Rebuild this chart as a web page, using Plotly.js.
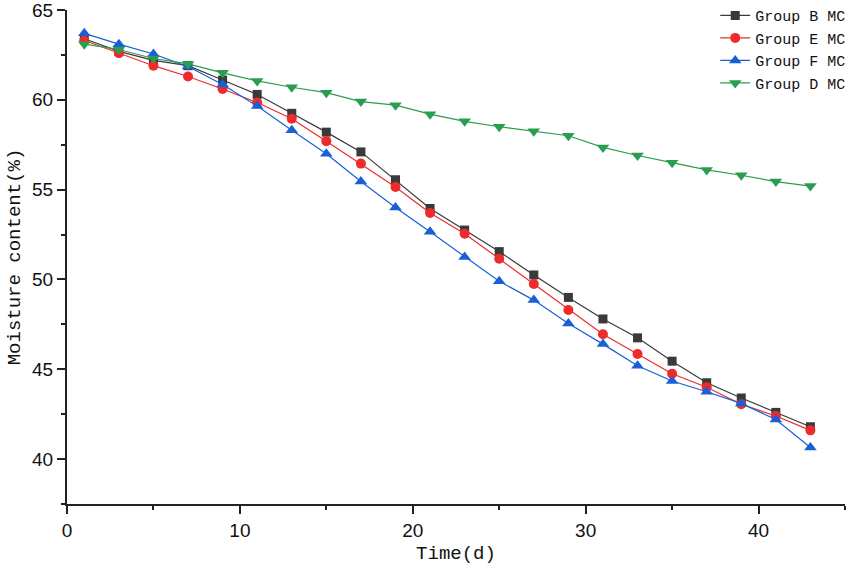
<!DOCTYPE html>
<html>
<head>
<meta charset="utf-8">
<script src="https://cdn.plot.ly/plotly-3.0.1.min.js"></script>
<style>
  html, body { margin: 0; padding: 0; background: #fff; }
  #chart { width: 851px; height: 574px; }
</style>
</head>
<body>
<div id="chart"></div>
<script>
const days = [1, 3, 5, 7, 9, 11, 13, 15, 17, 19, 21, 23, 25, 27, 29, 31, 33, 35, 37, 39, 41, 43];

const groupB = [63.4, 62.7, 62.2, 61.9, 61.1, 60.3, 59.25, 58.2, 57.1, 55.55, 53.95, 52.75, 51.55, 50.25,
  49.0, 47.8, 46.75, 45.45, 44.25, 43.4, 42.6, 41.8];
const groupE = [63.3, 62.6, 61.9, 61.3, 60.6, 59.85, 58.95, 57.7, 56.45, 55.15, 53.7, 52.55, 51.15, 49.75,
  48.3, 46.95, 45.85, 44.75, 44.0, 43.05, 42.4, 41.6];
const groupF = [63.7, 63.1, 62.55, 61.85, 60.85, 59.65, 58.3, 57.0, 55.45, 54.0, 52.65, 51.25, 49.9, 48.85,
  47.55, 46.4, 45.2, 44.35, 43.75, 43.1, 42.2, 40.65];
const groupD = [63.1, 62.8, 62.3, 62.0, 61.5, 61.05, 60.7, 60.4, 59.9, 59.7, 59.2, 58.8, 58.5, 58.25,
  58.0, 57.35, 56.9, 56.5, 56.1, 55.8, 55.45, 55.2];

const seriesNames = ["Group B MC", "Group E MC", "Group F MC", "Group D MC"];

function makeTrace(y, name, color, symbol, size) {
  return {
    x: days,
    y: y,
    name: name,
    type: "scatter",
    mode: "lines+markers",
    line: { color: color, width: 1.2 },
    marker: { color: color, symbol: symbol, size: size, line: { width: 0 } },
  };
}

const data = [
  makeTrace(groupB, seriesNames[0], "#3a3a3a", "square", 9),
  makeTrace(groupE, seriesNames[1], "#ee2b2b", "circle", 10),
  makeTrace(groupF, seriesNames[2], "#1a5fd6", "triangle-up", 11),
  makeTrace(groupD, seriesNames[3], "#2a9d4f", "triangle-down", 11),
];

const tickFont = { family: "Liberation Sans Narrow, Liberation Sans, Arial, sans-serif", size: 19, color: "#111" };
const monoFont = { family: "Liberation Mono, DejaVu Sans Mono, monospace", size: 19, color: "#111" };

const layout = {
  width: 851,
  height: 574,
  margin: { l: 67, r: 6, t: 10, b: 70, autoexpand: false },
  paper_bgcolor: "#fff",
  plot_bgcolor: "#fff",
  showlegend: true,
  legend: {
    x: 1.008,
    xanchor: "right",
    y: 1.022,
    yanchor: "top",
    bgcolor: "rgba(0,0,0,0)",
    font: { family: "Liberation Mono, DejaVu Sans Mono, monospace", size: 15, color: "#111" },
    tracegroupgap: 0,
    itemwidth: 30,
  },
  xaxis: {
    range: [0, 45],
    dtick: 10,
    tick0: 0,
    showgrid: false,
    zeroline: false,
    showline: true,
    linecolor: "#222",
    linewidth: 2,
    ticks: "outside",
    ticklen: 8,
    tickwidth: 1.5,
    tickcolor: "#222",
    tickfont: tickFont,
    ticklabeloverflow: "allow",
    minor: { dtick: 5, ticks: "outside", ticklen: 4, tickwidth: 1.5, tickcolor: "#222", showgrid: false },
    title: { text: "Time(d)", font: monoFont, standoff: 6 },
  },
  yaxis: {
    range: [37.5, 65],
    dtick: 5,
    tick0: 40,
    showgrid: false,
    zeroline: false,
    showline: true,
    linecolor: "#222",
    linewidth: 2,
    ticks: "outside",
    ticklen: 8,
    tickwidth: 1.5,
    tickcolor: "#222",
    tickfont: tickFont,
    ticklabeloverflow: "allow",
    minor: { dtick: 2.5, ticks: "outside", ticklen: 4, tickwidth: 1.5, tickcolor: "#222", showgrid: false },
    title: { text: "Moisture content(%)", font: monoFont, standoff: 6 },
  },
};

Plotly.newPlot("chart", data, layout, { displayModeBar: false, responsive: false });
</script>
</body>
</html>
